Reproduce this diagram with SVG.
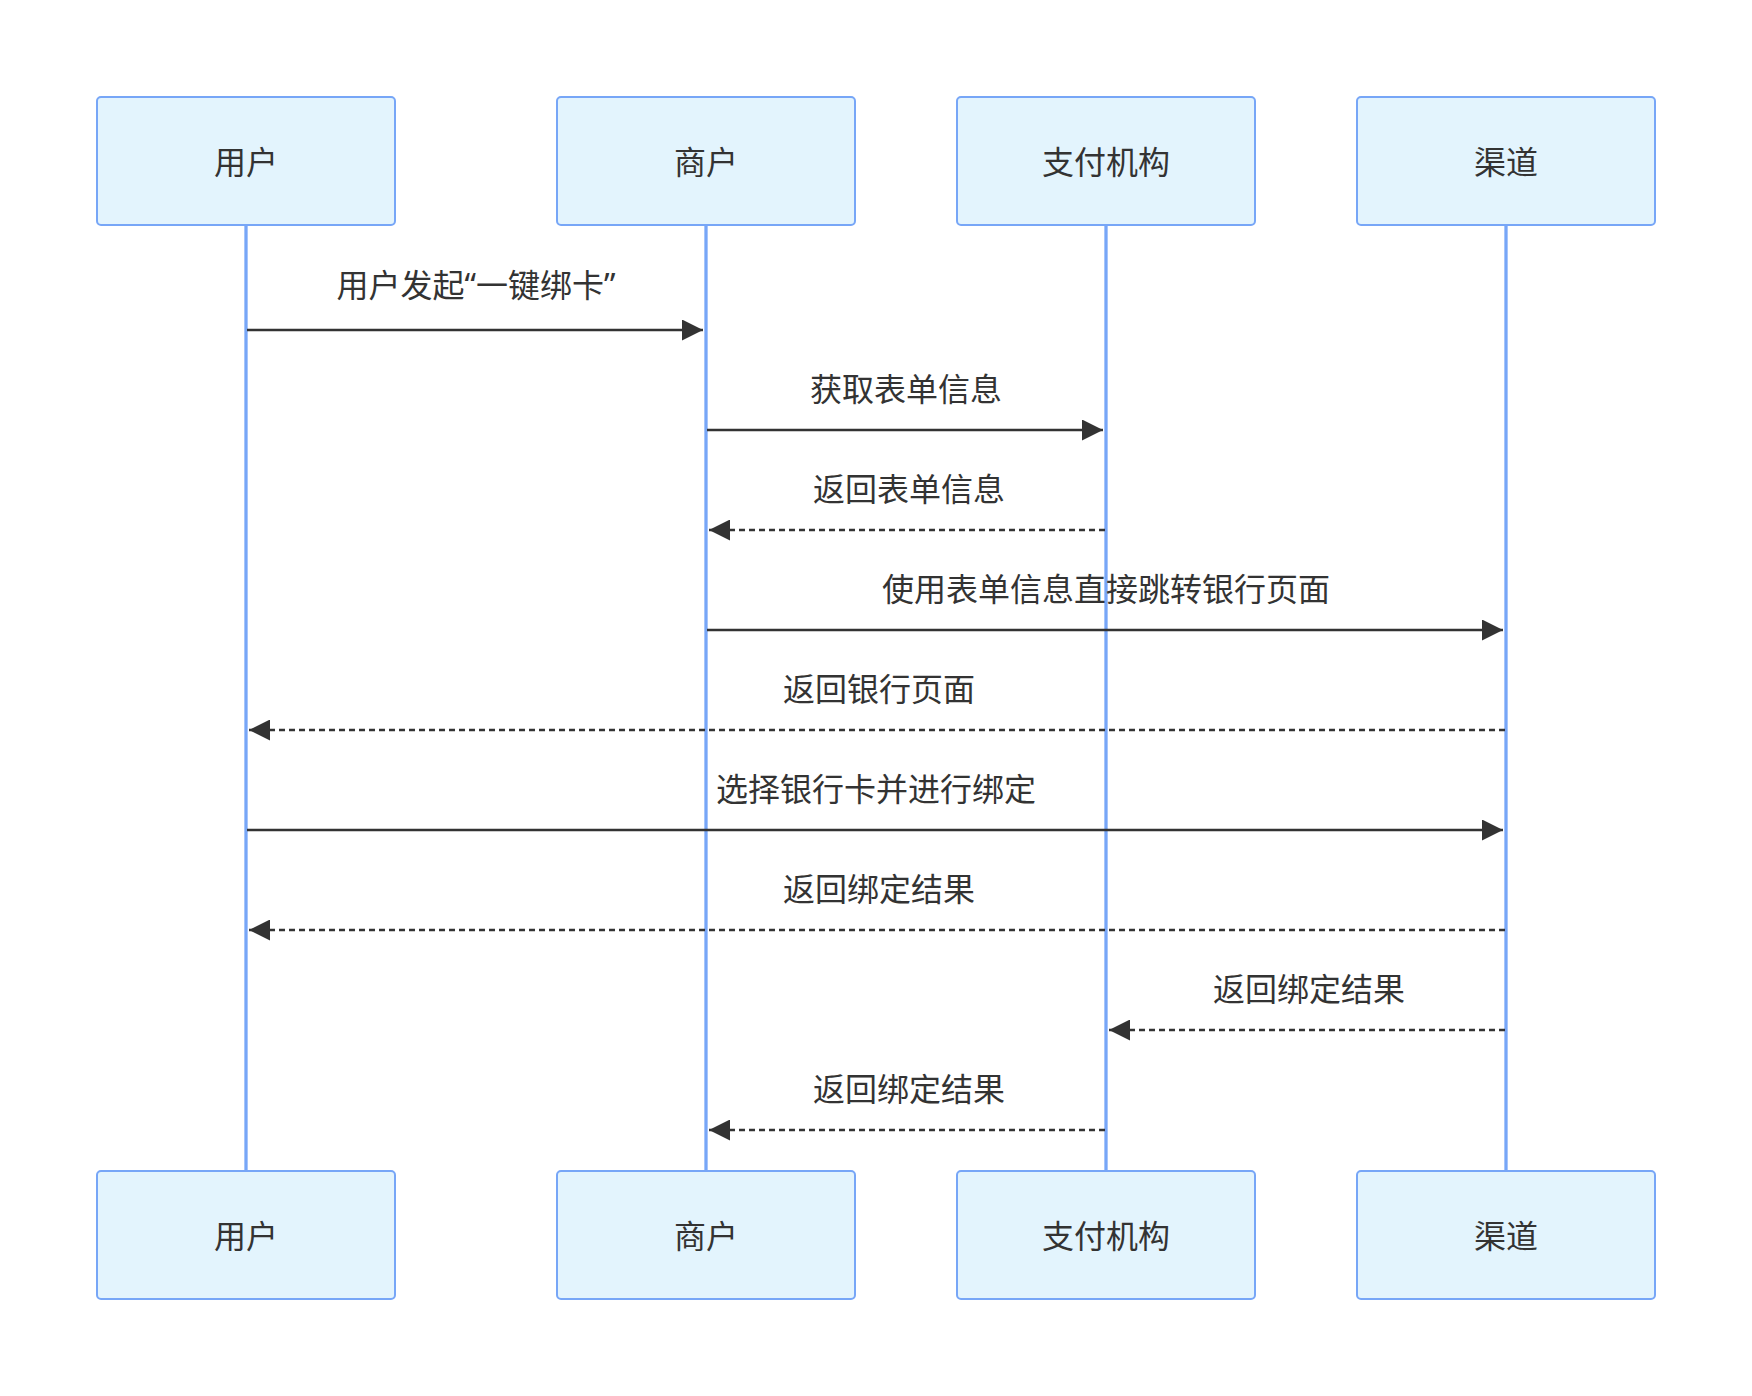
<svg xmlns="http://www.w3.org/2000/svg" width="1752" height="1396" viewBox="0 0 1752 1396">
<defs>
<style>
.actor rect{fill:#E3F4FD;stroke:#77A6F7;stroke-width:2}
.actor text,.label{font-family:"Noto Sans CJK SC","Noto Sans",sans-serif;font-size:32px;fill:#333;text-anchor:middle}
.q{font-family:"Noto Sans","Liberation Sans",sans-serif}
.lifeline{stroke:#77A6F7;stroke-width:3.3}
.msg{stroke:#333;stroke-width:2.5;fill:none;marker-end:url(#arrow)}
.dotted{stroke-dasharray:6,4}
</style>
<marker id="arrow" markerUnits="userSpaceOnUse" viewBox="0 0 21 21" markerWidth="21" markerHeight="21" refX="21" refY="10.5" orient="auto">
<path d="M0,0 L21,10.5 L0,21 z" fill="#333"/>
</marker>
</defs>
<rect width="1752" height="1396" fill="#fff"/>
<g id="lifelines">
<line class="lifeline" x1="246" y1="226" x2="246" y2="1170"/>
<line class="lifeline" x1="706" y1="226" x2="706" y2="1170"/>
<line class="lifeline" x1="1106" y1="226" x2="1106" y2="1170"/>
<line class="lifeline" x1="1506" y1="226" x2="1506" y2="1170"/>
</g>
<g id="actor-user-top" class="actor"><rect x="97" y="97" width="298" height="128" rx="4"/><text x="246" y="174">用户</text></g>
<g id="actor-merchant-top" class="actor"><rect x="557" y="97" width="298" height="128" rx="4"/><text x="706" y="174">商户</text></g>
<g id="actor-payment-top" class="actor"><rect x="957" y="97" width="298" height="128" rx="4"/><text x="1106" y="174">支付机构</text></g>
<g id="actor-channel-top" class="actor"><rect x="1357" y="97" width="298" height="128" rx="4"/><text x="1506" y="174">渠道</text></g>
<g id="actor-user-bottom" class="actor"><rect x="97" y="1171" width="298" height="128" rx="4"/><text x="246" y="1248">用户</text></g>
<g id="actor-merchant-bottom" class="actor"><rect x="557" y="1171" width="298" height="128" rx="4"/><text x="706" y="1248">商户</text></g>
<g id="actor-payment-bottom" class="actor"><rect x="957" y="1171" width="298" height="128" rx="4"/><text x="1106" y="1248">支付机构</text></g>
<g id="actor-channel-bottom" class="actor"><rect x="1357" y="1171" width="298" height="128" rx="4"/><text x="1506" y="1248">渠道</text></g>
<g id="connectors">
<line class="msg" x1="247" y1="330" x2="703" y2="330"/>
<text class="label" x="476" y="297">用户发起<tspan class="q">“</tspan>一键绑卡<tspan class="q">”</tspan></text>
<line class="msg" x1="707" y1="430" x2="1103" y2="430"/>
<text class="label" x="906" y="401">获取表单信息</text>
<line class="msg dotted" x1="1105" y1="530" x2="709" y2="530"/>
<text class="label" x="909" y="501">返回表单信息</text>
<line class="msg" x1="707" y1="630" x2="1503" y2="630"/>
<text class="label" x="1106" y="601">使用表单信息直接跳转银行页面</text>
<line class="msg dotted" x1="1505" y1="730" x2="249" y2="730"/>
<text class="label" x="879" y="701">返回银行页面</text>
<line class="msg" x1="247" y1="830" x2="1503" y2="830"/>
<text class="label" x="876" y="801">选择银行卡并进行绑定</text>
<line class="msg dotted" x1="1505" y1="930" x2="249" y2="930"/>
<text class="label" x="879" y="901">返回绑定结果</text>
<line class="msg dotted" x1="1505" y1="1030" x2="1109" y2="1030"/>
<text class="label" x="1309" y="1001">返回绑定结果</text>
<line class="msg dotted" x1="1105" y1="1130" x2="709" y2="1130"/>
<text class="label" x="909" y="1101">返回绑定结果</text>
</g>
</svg>
